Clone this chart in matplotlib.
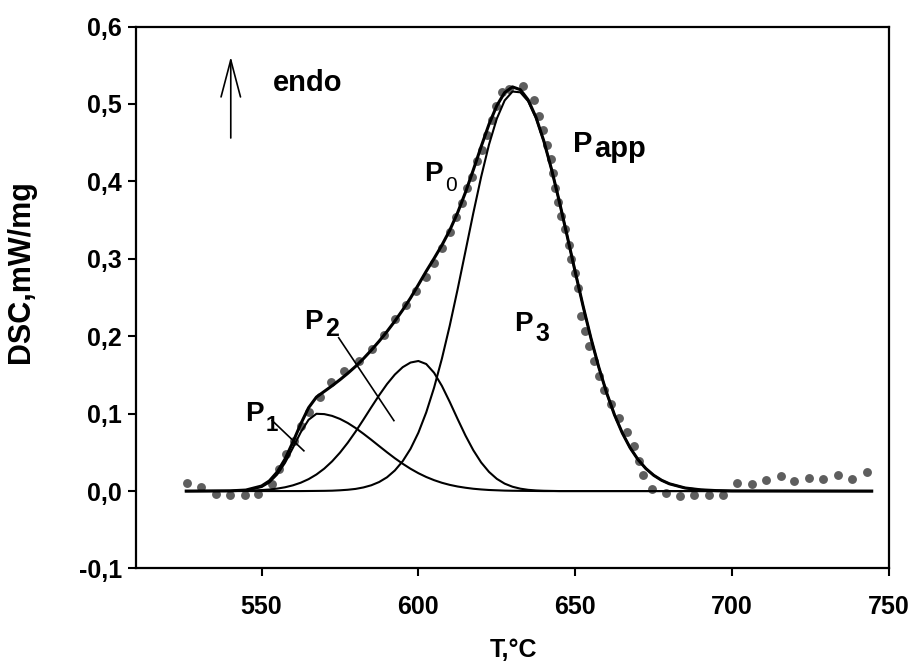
import matplotlib
matplotlib.use("Agg")
import matplotlib.pyplot as plt
from matplotlib.ticker import FixedLocator, FuncFormatter

plt.rcParams['font.family'] = ['Liberation Sans', 'DejaVu Sans']

# measured DSC points (T, DSC)
dots_t = [526.1, 530.8, 535.4, 540.0, 544.6, 548.9, 553.4, 555.5, 557.7, 560.3,
          562.5, 565.1, 568.5, 572.2, 576.2, 581.0, 585.3, 588.9, 592.7, 595.9,
          599.1, 602.3, 604.9, 607.6, 610.1, 611.9, 613.9, 615.5, 617.1, 618.7,
          620.3, 621.9, 623.5, 624.6, 626.7, 628.8, 633.5, 636.7, 638.3, 639.7,
          641.0, 642.4, 642.8, 643.4, 644.4, 645.5, 646.6, 647.9, 648.8, 649.8,
          650.9, 651.9, 653.2, 654.3, 656.1, 657.5, 659.3, 661.5, 663.8, 666.6,
          668.6, 670.4, 671.5, 674.4, 678.9, 683.4, 687.9, 692.5, 697.1, 701.7,
          706.4, 710.8, 715.5, 719.8, 724.4, 729.0, 733.6, 738.2, 742.9]
dots_v = [0.011, 0.005, -0.004, -0.005, -0.005, -0.004, 0.009, 0.029, 0.048, 0.065,
          0.084, 0.102, 0.121, 0.141, 0.155, 0.168, 0.184, 0.202, 0.222, 0.240,
          0.258, 0.276, 0.295, 0.314, 0.334, 0.354, 0.372, 0.391, 0.406, 0.426,
          0.441, 0.460, 0.479, 0.497, 0.516, 0.519, 0.523, 0.505, 0.485, 0.466,
          0.447, 0.429, 0.411, 0.391, 0.373, 0.355, 0.338, 0.318, 0.300, 0.281,
          0.262, 0.226, 0.207, 0.187, 0.168, 0.149, 0.131, 0.113, 0.095, 0.076,
          0.058, 0.039, 0.021, 0.003, -0.003, -0.006, -0.005, -0.005, -0.005, 0.010,
          0.009, 0.014, 0.020, 0.013, 0.017, 0.015, 0.021, 0.016, 0.025]

# fitted components, read along the same temperatures
temp = [526, 540, 545, 550, 552.5, 555, 557.5, 560, 562.5, 565, 567.5, 570, 572.5,
        575, 577.5, 580, 582.5, 585, 587.5, 590, 592.5, 595, 597.5, 600, 602.5,
        605, 607.5, 610, 612.5, 615, 617.5, 620, 622.5, 625, 627.5, 630, 632.5,
        635, 637.5, 640, 642.5, 645, 647.5, 650, 652.5, 655, 657.5, 660, 662.5,
        665, 667.5, 670, 672.5, 675, 677.5, 680, 685, 690, 695, 700, 744.5]
p1 = [0, 0.0001, 0.0008, 0.0052, 0.0111, 0.0214, 0.0365, 0.0558, 0.0759, 0.0921,
      0.0998, 0.0994, 0.0971, 0.0932, 0.0879, 0.0814, 0.0740, 0.0662, 0.0581, 0.0501,
      0.0424, 0.0353, 0.0288, 0.0231, 0.0182, 0.0141, 0.0107, 0.0080, 0.0059, 0.0043,
      0.0030, 0.0021, 0.0014, 0.0010, 0.0006, 0.0004, 0.0003, 0.0002, 0.0001, 0,
      0, 0, 0, 0, 0, 0, 0, 0, 0, 0, 0, 0, 0, 0, 0, 0, 0, 0, 0, 0, 0]
p2 = [0, 0.0002, 0.0005, 0.0013, 0.0020, 0.0032, 0.0049, 0.0074, 0.0108, 0.0154,
      0.0214, 0.0290, 0.0384, 0.0496, 0.0625, 0.0769, 0.0924, 0.1083, 0.1238, 0.1382,
      0.1505, 0.1600, 0.1660, 0.1680, 0.1641, 0.1528, 0.1358, 0.1151, 0.0931, 0.0718,
      0.0528, 0.0370, 0.0248, 0.0158, 0.0096, 0.0056, 0.0031, 0.0016, 0.0008, 0.0004,
      0.0002, 0, 0, 0, 0, 0, 0, 0, 0, 0, 0, 0, 0, 0, 0, 0, 0, 0, 0, 0, 0]
p3 = [0, 0, 0, 0, 0, 0, 0, 0, 0, 0.0001, 0.0002, 0.0003, 0.0005,
      0.0010, 0.0017, 0.0028, 0.0047, 0.0075, 0.0117, 0.0178, 0.0266, 0.0386, 0.0546,
      0.0754, 0.1016, 0.1335, 0.1711, 0.2137, 0.2605, 0.3096, 0.3589, 0.4057, 0.4474,
      0.4810, 0.5045, 0.5160, 0.5150, 0.5034, 0.4817, 0.4515, 0.4145, 0.3727, 0.3281,
      0.2829, 0.2389, 0.1975, 0.1600, 0.1269, 0.0985, 0.0750, 0.0558, 0.0407, 0.0291,
      0.0204, 0.0140, 0.0094, 0.0040, 0.0016, 0.0006, 0.0002, 0]
p_app = [0, 0.0003, 0.0013, 0.0065, 0.0131, 0.0246, 0.0414, 0.0632, 0.0867, 0.1076,
         0.1214, 0.1287, 0.1360, 0.1438, 0.1521, 0.1611, 0.1711, 0.1820, 0.1936, 0.2061,
         0.2195, 0.2339, 0.2494, 0.2665, 0.2839, 0.3004, 0.3176, 0.3368, 0.3595, 0.3857,
         0.4147, 0.4448, 0.4736, 0.4978, 0.5147, 0.5220, 0.5184, 0.5052, 0.4826, 0.4519,
         0.4147, 0.3727, 0.3281, 0.2829, 0.2389, 0.1975, 0.1600, 0.1269, 0.0985, 0.0750,
         0.0558, 0.0407, 0.0291, 0.0204, 0.0140, 0.0094, 0.0040, 0.0016, 0.0006, 0.0002, 0]

x_ticks = [550, 600, 650, 700, 750]
y_ticks = [-0.1, 0.0, 0.1, 0.2, 0.3, 0.4, 0.5, 0.6]

fig = plt.figure(figsize=(9.16, 6.66), dpi=100)
ax = fig.add_axes([0.1485, 0.1464, 0.822, 0.8138])

ax.plot(dots_t, dots_v, 'o', color='#5e5e5e', ms=6.4, mec='none', zorder=2)
for comp in (p1, p2, p3):
    ax.plot(temp, comp, color='black', lw=1.5, zorder=3)
ax.plot(temp, p_app, color='black', lw=2.2, zorder=4)

# labels of the peaks
big = dict(fontsize=20, fontweight='bold', ha='left', va='baseline')
sub = dict(fontsize=16, fontweight='bold', ha='left', va='baseline')
ax.text(601.7, 0.400, 'P', **big)
ax.text(608.6, 0.387, '0', fontsize=15, ha='left', va='baseline')
ax.text(563.5, 0.209, 'P', **big)
ax.text(570.4, 0.200, '2', **dict(sub, fontsize=18))
ax.text(544.9, 0.091, 'P', **big)
ax.text(551.3, 0.078, '1', **sub)
ax.text(630.4, 0.207, 'P', **big)
ax.text(637.3, 0.194, '3', **dict(sub, fontsize=18))
ax.text(649.4, 0.438, 'P', **dict(big, fontsize=21))
ax.text(656.1, 0.432, 'app', **dict(big, fontsize=21))

ax.plot([574.6, 592.2], [0.198, 0.091], color='black', lw=1.2)
ax.plot([553.4, 563.5], [0.091, 0.052], color='black', lw=1.2)

ax.annotate('', xy=(540.2, 0.561), xytext=(540.2, 0.456),
            arrowprops=dict(arrowstyle='->,head_length=1.9,head_width=0.5',
                            lw=1.2, color='black', shrinkA=0, shrinkB=0,
                            mutation_scale=14))
ax.text(553.5, 0.527, 'endo', fontsize=21, fontweight='bold', ha='left', va='center')

ax.set_xlim(510, 750)
ax.set_ylim(-0.1, 0.6)
ax.xaxis.set_major_locator(FixedLocator(x_ticks))
ax.yaxis.set_major_locator(FixedLocator(y_ticks))
ax.yaxis.set_major_formatter(FuncFormatter(lambda v, p: ('%.1f' % v).replace('.', ',')))
ax.tick_params(direction='out', length=6, width=1.5, labelsize=18,
               top=False, right=False)
ax.tick_params(axis='x', pad=13)
ax.tick_params(axis='y', pad=4)
for lab in ax.get_xticklabels() + ax.get_yticklabels():
    lab.set_fontweight('bold')
for s in ax.spines.values():
    s.set_linewidth(1.6)

ax.set_xlabel('T,°C', fontsize=18, fontweight='bold')
ax.set_ylabel('DSC,mW/mg', fontsize=22, fontweight='bold')
ax.xaxis.set_label_coords(0.5007, -0.128)
ax.yaxis.set_label_coords(-0.133, 0.547)

fig.savefig('out.png', dpi=100)
